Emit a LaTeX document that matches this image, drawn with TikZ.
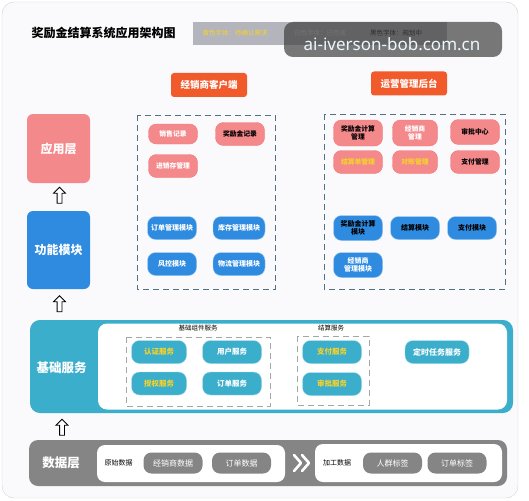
\documentclass[tikz,border=0pt]{standalone}
\usepackage{fontspec}
\setmainfont{Noto Sans CJK SC}
\newfontfamily\markfont{Noto Sans}
\usetikzlibrary{positioning,shapes.arrows,calc}

\definecolor{frameBg}{HTML}{FAFAFC}
\definecolor{frameLine}{HTML}{D2D2D6}
\definecolor{appPink}{HTML}{F4898C}
\definecolor{funcBlue}{HTML}{2E8BE0}
\definecolor{baseTeal}{HTML}{3AAECB}
\definecolor{dataGray}{HTML}{858585}
\definecolor{tagOrange}{HTML}{F15A2B}
\definecolor{groupLine}{HTML}{4F7384}
\definecolor{hintYellow}{HTML}{F6D22B}
\definecolor{legendGray}{HTML}{B4B4BC}

\tikzset{
  pill/.style={rounded corners=8pt, minimum height=23pt, inner sep=1.5pt,
    align=center, font=\fontsize{6.8}{7.8}\selectfont\bfseries},
  apppill/.style={pill, fill=appPink, draw=appPink!85!red, minimum width=49pt},
  funcpill/.style={pill, fill=funcBlue, draw=funcBlue!45!white, minimum width=49pt,
    font=\fontsize{7}{8}\selectfont\bfseries},
  basepill/.style={pill, fill=baseTeal, draw=baseTeal!45!white, minimum width=55pt,
    font=\fontsize{7.5}{9}\selectfont\bfseries},
  datapill/.style={pill, fill=dataGray, text=white, minimum width=59pt, minimum height=21pt,
    font=\fontsize{8}{9}\selectfont},
  layerbox/.style={rounded corners=6pt, text=white, minimum width=63pt,
    font=\fontsize{12}{14}\selectfont\bfseries},
  group/.style={draw=groupLine, dashed, dash pattern=on 6pt off 4pt, line width=0.8pt},
  tag/.style={fill=tagOrange, text=white, rounded corners=3pt, minimum width=76pt,
    minimum height=24pt, font=\fontsize{9.5}{11}\selectfont\bfseries},
  uparrow/.style={single arrow, draw=black, fill=white, line width=0.8pt,
    shape border rotate=90, minimum height=16pt, inner sep=2pt,
    single arrow head extend=3.5pt},
  small/.style={font=\fontsize{6.5}{8}\selectfont},
  wtxt/.style={text=white},
  ytxt/.style={text=hintYellow},
  btxt/.style={text=black}
}

\begin{document}
\begin{tikzpicture}[x=1pt, y=-1pt]
  \useasboundingbox (0,0) rectangle (529,500);
  \draw[frameLine, fill=frameBg, rounded corners=12pt] (2,2) rectangle (518,498);

  % title and legend
  \node[font=\fontsize{12}{14}\selectfont\bfseries] (title) at (103.5,33) {奖励金结算系统应用架构图};
  \fill[legendGray] (193,22) rectangle (447,45);
  \node[small, ytxt] (legY) at (235,33.5) {黄色字体：待确认需求};
  \node[small, text=white!85!gray] (legW) at (320,33.5) {白色字体：已完成};
  \node[small, btxt] (legB) at (396,33.5) {黑色字体：规划中};
  \fill[black!75, opacity=0.7, rounded corners=9pt] (284,22) rectangle (502,57);
  \node[font=\markfont\fontsize{17}{19}\selectfont, text=cyan!8!white] (mark) at (392,44) {ai-iverson-bob.com.cn};

  % client tags
  \node[tag] (client) at (209,85) {经销商客户端};
  \node[tag] (backend) at (409,83.5) {运营管理后台};

  % layers on the left
  \node[layerbox, fill=appPink, minimum height=69pt] (app) at (58.5,148.5) {应用层};
  \node[layerbox, fill=funcBlue, minimum height=78pt] (func) at (58.5,250) {功能模块};
  \node[uparrow] (up1) at (59.5,196.5) {};
  \node[uparrow] (up2) at (59.5,305) {};
  \node[uparrow] (up3) at (62,428.5) {};

  % dashed groups
  \draw[group] (137,115) rectangle (275,289);
  \draw[group] (324,114) rectangle (505,289);

  % application layer
  \node[apppill, wtxt, minimum height=20pt] (sales) at (173,134) {销售记录};
  \node[apppill, btxt] (reward) at (240,134) {奖励金记录};
  \node[apppill, wtxt] (stock) at (173,166) {进销存管理};
  \node[apppill, btxt, minimum height=26pt] (calcmgr) at (358,133) {奖励金计算\\管理};
  \node[apppill, wtxt, minimum height=26pt, minimum width=45pt] (dealmgr) at (415,133) {经销商\\管理};
  \node[apppill, btxt, minimum height=25pt] (approve) at (475,132) {审批中心};
  \node[apppill, ytxt] (settle) at (358,162) {结算单管理};
  \node[apppill, ytxt, minimum width=45pt] (check) at (415,162) {对账管理};
  \node[apppill, btxt] (paymgr) at (475,162) {支付管理};

  % function modules
  \node[funcpill, wtxt] (order) at (172,228) {订单管理模块};
  \node[funcpill, wtxt, minimum width=52pt] (store) at (239,228) {库存管理模块};
  \node[funcpill, wtxt] (risk) at (172,264) {风控模块};
  \node[funcpill, wtxt, minimum width=52pt] (ship) at (239,264) {物流管理模块};
  \node[funcpill, btxt, minimum height=25pt] (calcmod) at (358,228) {奖励金计算\\模块};
  \node[funcpill, btxt] (settlemod) at (415,228) {结算模块};
  \node[funcpill, btxt] (paymod) at (472,228) {支付模块};
  \node[funcpill, wtxt, minimum height=25pt] (dealmod) at (358,265) {经销商\\管理模块};

  % base services
  \draw[baseTeal, fill=baseTeal, line width=2pt, rounded corners=9pt] (31,321) rectangle (512,412);
  \fill[white, rounded corners=9pt] (98,323.5) rectangle (507,409.5);
  \node[font=\fontsize{12.5}{14}\selectfont\bfseries, text=white] (base) at (61.5,368) {基础服务};
  \node[small] (common) at (198,328) {基础组件服务};
  \node[small] (settlesvc) at (331,328.5) {结算服务};
  \draw[group, draw=gray!70, line width=0.6pt] (126,337) rectangle (270,406);
  \draw[group, draw=gray!70, line width=0.6pt] (297,336) rectangle (369,405);
  \node[basepill, ytxt] (auth) at (159,352) {认证服务};
  \node[basepill, wtxt, minimum width=59pt] (user) at (232,352) {用户服务};
  \node[basepill, ytxt] (grant) at (159,383.5) {授权服务};
  \node[basepill, wtxt, minimum width=59pt] (ordersvc) at (232,383.5) {订单服务};
  \node[basepill, ytxt, minimum width=59pt] (paysvc) at (332,352) {支付服务};
  \node[basepill, ytxt, minimum width=59pt] (approvesvc) at (332,384) {审批服务};
  \node[basepill, wtxt, minimum width=64pt, font=\fontsize{8}{9}\selectfont\bfseries] (timer) at (437,352) {定时任务服务};

  % data layer
  \fill[dataGray, rounded corners=9pt] (29,440) rectangle (507,486);
  \node[font=\fontsize{12.5}{14}\selectfont\bfseries, text=white] (data) at (61,463) {数据层};
  \fill[white, rounded corners=8pt] (97,445) rectangle (285,482);
  \fill[white, rounded corners=8pt] (315,444) rectangle (502,482);
  \node[small, font=\fontsize{7}{8}\selectfont] (raw) at (118.5,463) {原始数据};
  \node[datapill] (dealdata) at (173,463) {经销商数据};
  \node[datapill] (orderdata) at (241.5,463) {订单数据};
  \node[small, font=\fontsize{7}{8}\selectfont] (proc) at (337,463) {加工数据};
  \node[datapill] (crowd) at (392.5,463) {人群标签};
  \node[datapill] (ordertag) at (457,463) {订单标签};
  \draw[white, line width=2.6pt, line cap=round, line join=round]
    (294,455) -- (301,463) -- (294,471) (302,455) -- (309,463) -- (302,471);

\end{tikzpicture}
\end{document}
